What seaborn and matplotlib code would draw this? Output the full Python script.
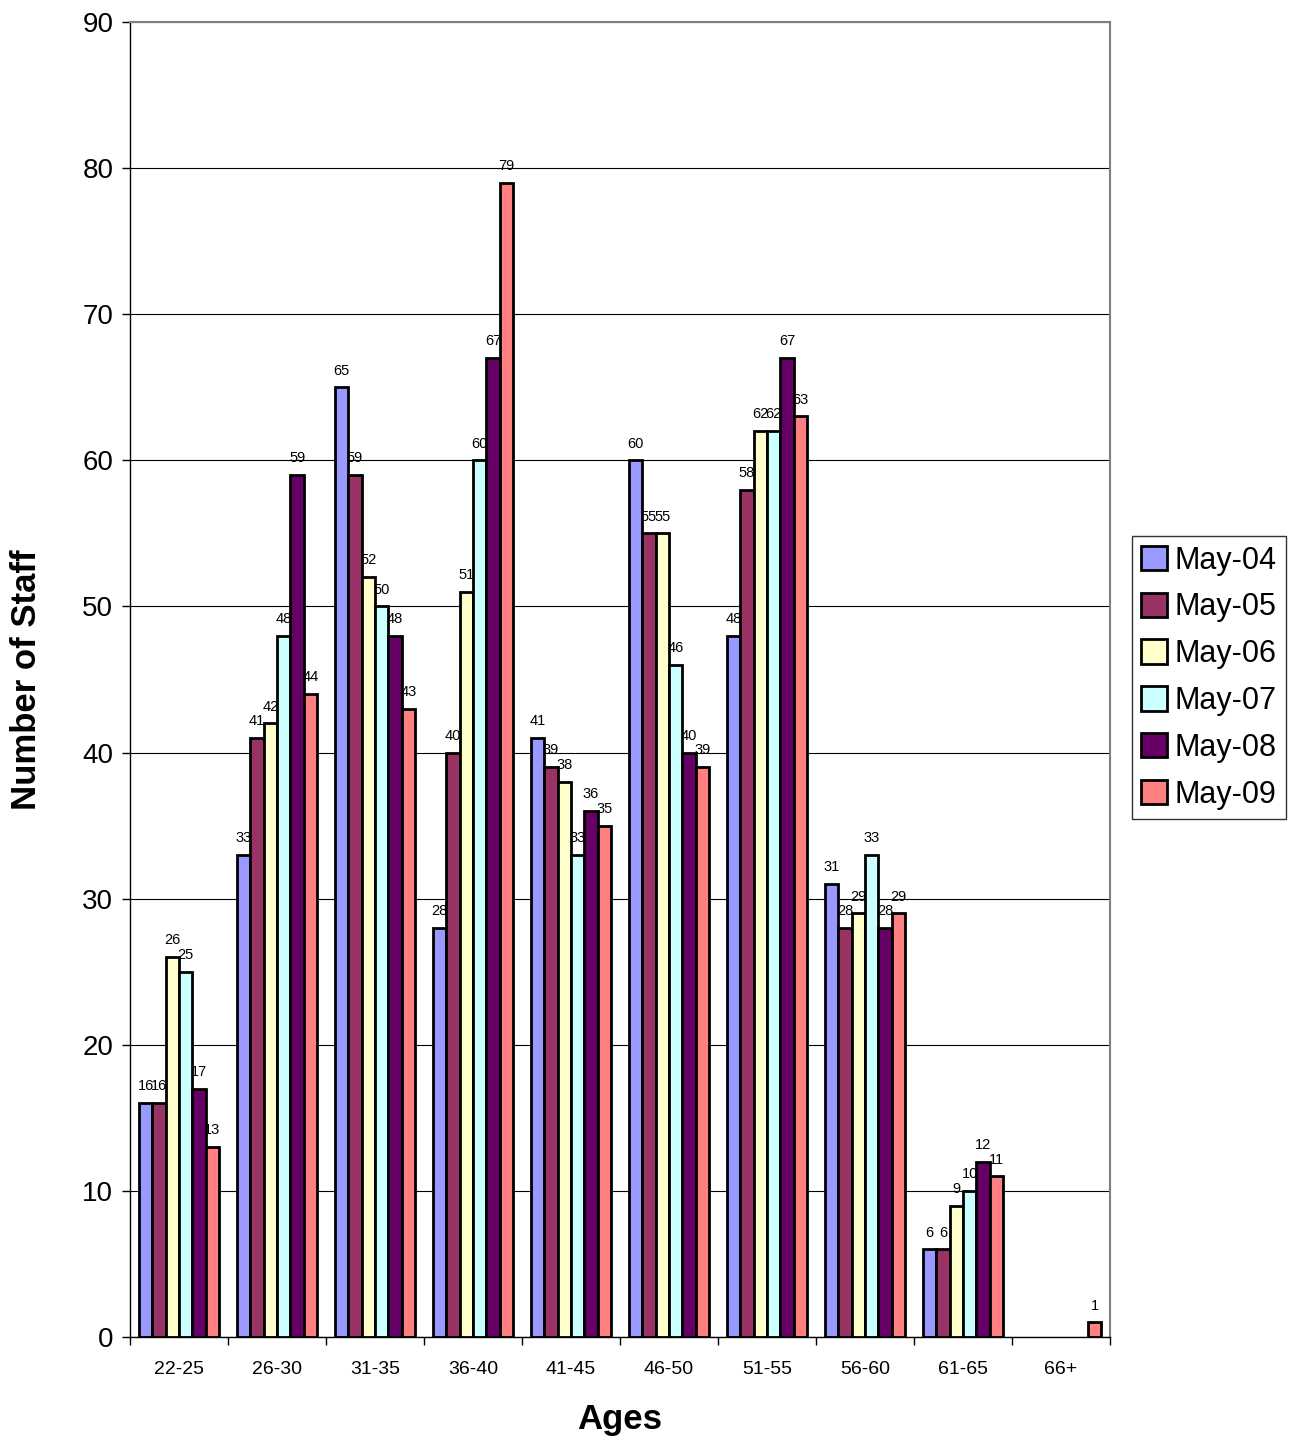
import matplotlib
matplotlib.use("Agg")
import matplotlib.pyplot as plt
import seaborn as sns
import pandas as pd
import numpy as np
from matplotlib.ticker import FixedLocator

ages = ["22-25", "26-30", "31-35", "36-40", "41-45", "46-50", "51-55", "56-60", "61-65", "66+"]
may04 = [16, 33, 65, 28, 41, 60, 48, 31, 6, 0]
may05 = [16, 41, 59, 40, 39, 55, 58, 28, 6, 0]
may06 = [26, 42, 52, 51, 38, 55, 62, 29, 9, 0]
may07 = [25, 48, 50, 60, 33, 46, 62, 33, 10, 0]
may08 = [17, 59, 48, 67, 36, 40, 67, 28, 12, 0]
may09 = [13, 44, 43, 79, 35, 39, 63, 29, 11, 1]
series_names = ["May-04", "May-05", "May-06", "May-07", "May-08", "May-09"]
colors = ["#9999FF", "#993366", "#FFFFCC", "#CCFFFF", "#660066", "#FF8080"]

rows = []
for name, vals in zip(series_names, [may04, may05, may06, may07, may08, may09]):
    for a, v in zip(ages, vals):
        rows.append({"Ages": a, "Series": name, "Value": v})
df = pd.DataFrame(rows)

sns.set_style("white")
plt.rcParams["font.family"] = ["Liberation Sans", "DejaVu Sans"]
plt.rcParams["text.color"] = "black"
plt.rcParams["axes.labelcolor"] = "black"
plt.rcParams["xtick.color"] = "black"
plt.rcParams["ytick.color"] = "black"

fig = plt.figure(figsize=(12.91, 14.43), dpi=100)
ax = fig.add_axes([130/1291, 106/1443, 980/1291, 1315/1443])

sns.barplot(data=df, x="Ages", y="Value", hue="Series", order=ages,
            hue_order=series_names, palette=colors, width=0.82,
            edgecolor="black", linewidth=2, saturation=1, ax=ax, errorbar=None)

for cont in ax.containers:
    for p, v in zip(cont.patches, cont.datavalues):
        if v <= 0:
            p.set_visible(False)
    labels = [f"{int(v)}" if v > 0 else "" for v in cont.datavalues]
    ax.bar_label(cont, labels=labels, padding=7, fontsize=10.5, color="black")

ax.set_ylim(0, 90)
ax.set_xlim(-0.5, len(ages) - 0.5)
ax.set_yticks(range(0, 91, 10))
ax.yaxis.grid(True, color="black", linewidth=0.8)
ax.set_axisbelow(True)
ax.tick_params(axis="y", labelsize=20, length=6, width=1, direction="out", left=True, pad=6)
ax.tick_params(axis="x", labelsize=14, length=0, pad=17)
ax.xaxis.set_minor_locator(FixedLocator(np.arange(-0.5, len(ages), 1.0)))
ax.tick_params(axis="x", which="minor", length=6, width=1, direction="out", bottom=True)

for s in ["top", "right"]:
    ax.spines[s].set_color("#808080")
    ax.spines[s].set_linewidth(1.5)
for s in ["left", "bottom"]:
    ax.spines[s].set_color("black")
    ax.spines[s].set_linewidth(1)

ax.set_xlabel("Ages", fontsize=25, fontweight="bold", labelpad=18)
ax.set_ylabel("Number of Staff", fontsize=25, fontweight="bold", labelpad=28)

leg = ax.legend(loc="center left", bbox_to_anchor=(1.022, 0.5015), fontsize=22,
                frameon=True, fancybox=False, edgecolor="black", handlelength=0.85,
                handleheight=0.85, handletextpad=0.25, labelspacing=0.55, borderpad=0.3,
                borderaxespad=0)
leg.get_frame().set_linewidth(1)
for h in leg.legend_handles:
    h.set_edgecolor("black")
    h.set_linewidth(2)

fig.savefig("out.png", dpi=100)
